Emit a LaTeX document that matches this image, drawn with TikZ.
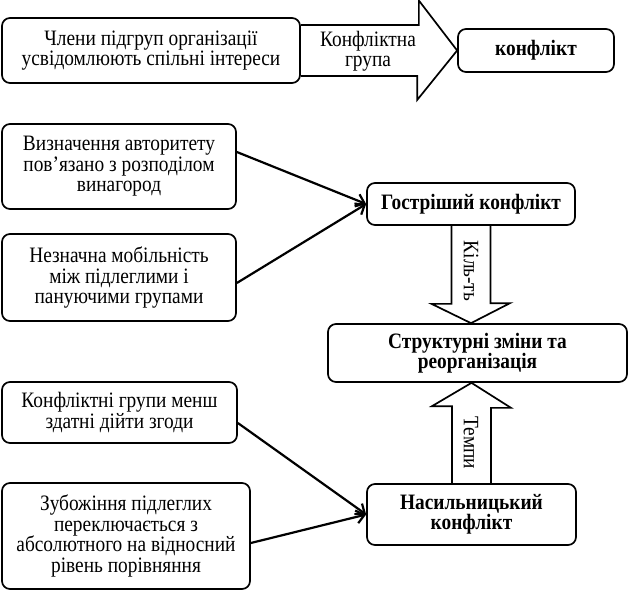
\documentclass[tikz,border=0pt]{standalone}
\usepackage{fontspec}
\setmainfont{Liberation Serif}[FakeStretch=0.88]
\usetikzlibrary{calc,arrows.meta}

\begin{document}
\begin{tikzpicture}
        [x=1pt, y=-1pt, font=\fontsize{22}{20.5}\selectfont,
         >={Straight Barb[length=8pt, width=13pt]},
         box/.style={rectangle, rounded corners=8pt, draw=black, line width=1.7pt, align=center, inner sep=1pt},
         boldbox/.style={box, font=\fontsize{22}{20.5}\selectfont\bfseries},
         link/.style={->, line width=2.2pt},
         blockarrow/.style={line width=1.7pt, line join=miter}]

        \useasboundingbox (0, 0) rectangle (629, 591);

        % top row
        \node[box, minimum width=298pt, minimum height=65pt] (members) at (151, 50.5) {Члени підгруп організації\\усвідомлюють спільні інтереси};
        \node[boldbox, minimum width=156pt, minimum height=43pt] (conflict) at (536, 50.5) {конфлікт};

        \draw[blockarrow] ($(members.east)+(0, -25.5)$) -- ++(118, 0) -- ++(0, -24.5) -- (conflict.west) -- ++(-40, 49.5) -- ++(0, -24) -- ($(members.east)+(0, 25.5)$);
        \node[align=center] (group) at (368, 51) {Конфліктна\\група};

        % left column
        \node[box, minimum width=234pt, minimum height=85pt] (authority) at (119, 166.5) {Визначення авторитету\\пов’язано з розподілом\\винагород};
        \node[box, minimum width=234pt, minimum height=87pt] (mobility) at (119, 277.5) {Незначна мобільність\\між підлеглими і\\пануючими групами};
        \node[box, minimum width=235pt, minimum height=61pt] (agreement) at (119.5, 412.5) {Конфліктні групи менш\\здатні дійти згоди};
        \node[box, minimum width=248pt, minimum height=106pt] (poverty) at (126, 536) {Зубожіння підлеглих\\переключається з\\абсолютного на відносний\\рівень порівняння};

        % right column
        \node[boldbox, minimum width=208pt, minimum height=42pt] (sharper) at (471, 204) {Гостріший конфлікт};
        \node[boldbox, minimum width=299pt, minimum height=58pt] (structure) at (477.5, 353) {Структурні зміни та\\реорганізація};
        \node[boldbox, minimum width=209pt, minimum height=61pt] (violent) at (471.5, 514.5) {Насильницький\\конфлікт};

        \draw[link] ([yshift=14.5pt]authority.east) -- (sharper.west);
        \draw[link] ([yshift=-5.5pt]mobility.east) -- (sharper.west);
        \draw[link] ([yshift=-10.5pt]agreement.east) -- (violent.west);
        \draw[link] ([yshift=-7pt]poverty.east) -- (violent.west);

        \draw[blockarrow] ([xshift=-19.5pt]sharper.south) -- ++(0, 78) -- ++(-20, 0) -- (sharper.south |- structure.north) -- ++(39, -20) -- ++(-19.5, 0) -- ([xshift=19.5pt]sharper.south);
        \node[rotate=-90] (quantity) at (471, 271) {Кіль-ть};

        \draw[blockarrow] ([xshift=-19.5pt]violent.north) -- ++(0, -77) -- ++(-20, 0) -- (violent.north |- structure.south) -- ++(39.5, 25) -- ++(-20, 0) -- ([xshift=19.5pt]violent.north);
        \node[rotate=-90] (pace) at (471, 443) {Темпи};
    \end{tikzpicture}
\end{document}
